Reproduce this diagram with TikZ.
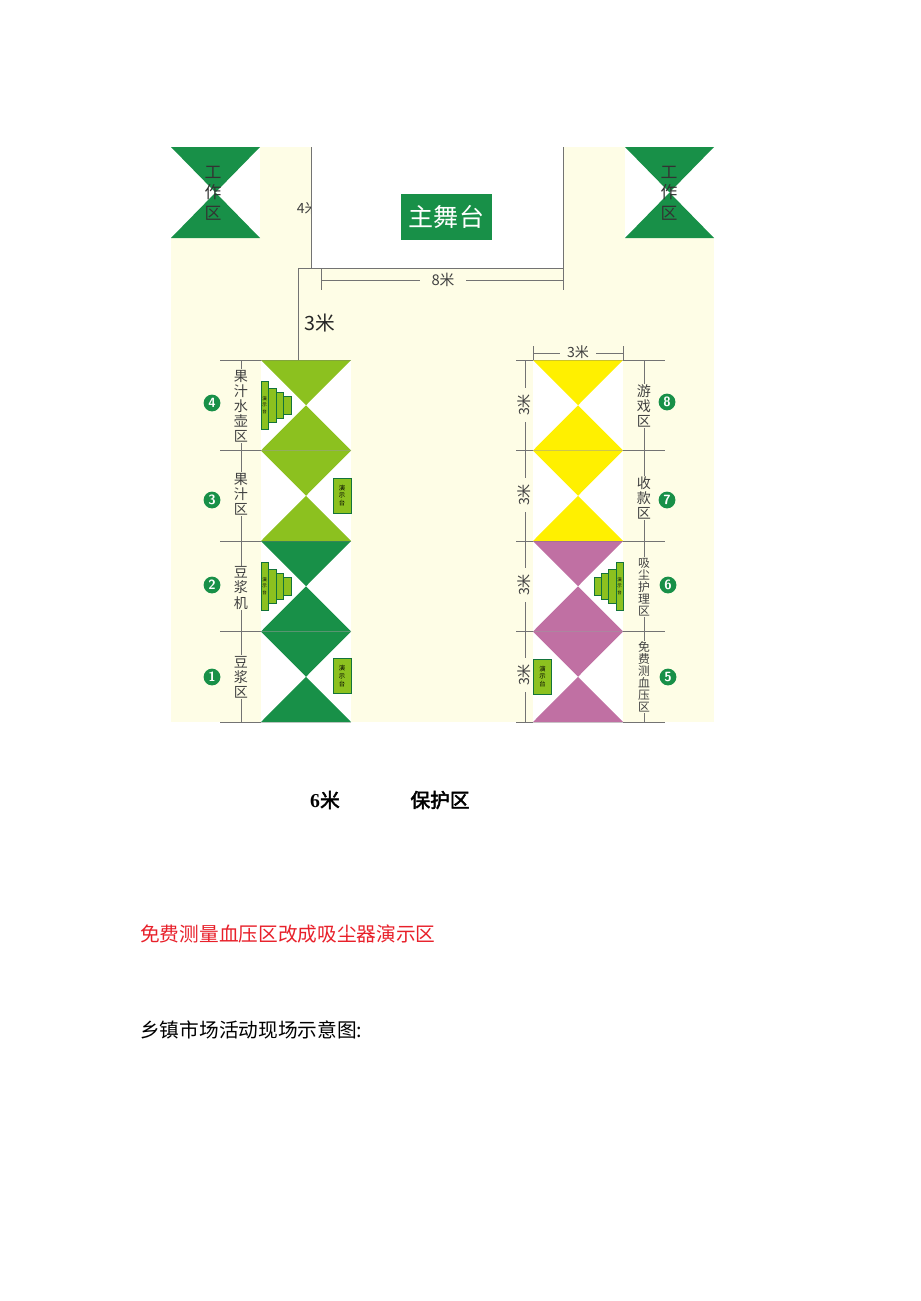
\documentclass[tikz,border=0pt]{standalone}
\usepackage{fontspec}
\setmainfont{Liberation Serif}
\newfontfamily\cjk[AutoFakeBold=2.5]{Noto Sans CJK SC}
\usetikzlibrary{positioning}

\definecolor{cream}{RGB}{254,253,230}
\definecolor{darkgreen}{RGB}{24,144,72}
\definecolor{lightgreen}{RGB}{140,193,31}
\definecolor{boothyellow}{RGB}{255,240,0}
\definecolor{mauve}{RGB}{192,112,163}
\definecolor{dimgray}{RGB}{115,115,115}
\definecolor{notered}{RGB}{232,32,42}

\begin{document}
\begin{tikzpicture}[x=0.025cm,y=-0.025cm,
  dimline/.style={dimgray,line width=0.5pt},
  lbl/.style={font=\cjk\fontsize{10}{10.7}\selectfont,text=black!75,align=center,fill=cream,inner sep=0.6pt},
  lblsmall/.style={lbl,font=\cjk\fontsize{8.4}{8.6}\selectfont},
  zonetxt/.style={font=\cjk\fontsize{12}{14.5}\selectfont,text=black!80,align=center,inner sep=0pt},
  numdot/.style={circle,fill=darkgreen,text=white,font=\sffamily\bfseries\fontsize{9.5}{9.5}\selectfont,minimum size=0.42cm,inner sep=0pt},
  demobox/.style={draw=darkgreen!80!black,fill=lightgreen,line width=0.5pt,minimum width=0.45cm,minimum height=0.88cm,inner sep=0pt,font=\cjk\fontsize{4.5}{5.5}\selectfont,align=center},
  stepbox/.style={draw=darkgreen!80!black,fill=lightgreen,line width=0.5pt},
  tallbox/.style={stepbox,minimum width=0.18cm,minimum height=1.2cm,inner sep=0pt,font=\cjk\fontsize{3.2}{4.5}\selectfont,align=center}]
\useasboundingbox[fill=white] (0,0) rectangle (920,1301);

% ground and main stage
\fill[cream] (171,147) rectangle (714,722);
\node[font=\cjk\fontsize{10}{10}\selectfont,text=black!75,anchor=east,inner sep=0pt] (four) at (319,208) {4米};
\fill[white] (311,147) rectangle (563,267.5);
\draw[dimline] (311,147) -- (311,268);
\draw[dimline] (298,268) -- (563,268);
\draw[dimline] (563,147) -- (563,290);
\draw[dimline] (298,268) -- (298,360);
\draw[dimline] (321,268) -- (321,290);
\draw[dimline] (321,280) -- (563,280);
\node[fill=cream,font=\cjk\fontsize{10.5}{10.5}\selectfont,text=black!75,inner xsep=8pt,inner ysep=0.5pt] (eight) at (443,280) {8米};
\node[fill=darkgreen,text=white,font=\cjk\fontsize{17.8}{17.8}\selectfont,minimum width=2.25cm,minimum height=1.15cm,inner sep=0pt] (stage) at (446.5,217) {主舞台};
\node[font=\cjk\fontsize{14}{14}\selectfont,text=black!85] (three) at (320,323) {3米};

% work zones
\fill[white] (171,147) rectangle (260,238);
\fill[darkgreen] (171,147) -- (260,147) -- (215.5,192.5) -- cycle;
\fill[darkgreen] (171,238) -- (260,238) -- (215.5,192.5) -- cycle;
\node[zonetxt] (workL) at (213,193) {工\\作\\区};
\fill[white] (625,147) rectangle (714,238);
\fill[darkgreen] (625,147) -- (714,147) -- (669.5,192.5) -- cycle;
\fill[darkgreen] (625,238) -- (714,238) -- (669.5,192.5) -- cycle;
\node[zonetxt] (workR) at (669,193) {工\\作\\区};

% left row of booths
\fill[white] (261,360) rectangle (351,722);
\fill[lightgreen] (261,360) -- (351,360) -- (306,405.25) -- cycle;
\fill[lightgreen] (261,450.5) -- (351,450.5) -- (306,405.25) -- cycle;
\fill[lightgreen] (261,450.5) -- (351,450.5) -- (306,495.75) -- cycle;
\fill[lightgreen] (261,541) -- (351,541) -- (306,495.75) -- cycle;
\fill[darkgreen] (261,541) -- (351,541) -- (306,586.25) -- cycle;
\fill[darkgreen] (261,631.5) -- (351,631.5) -- (306,586.25) -- cycle;
\fill[darkgreen] (261,631.5) -- (351,631.5) -- (306,676.75) -- cycle;
\fill[darkgreen] (261,722) -- (351,722) -- (306,676.75) -- cycle;

% right row of booths
\fill[white] (533,360) rectangle (623,722);
\fill[boothyellow] (533,360) -- (623,360) -- (578,405.25) -- cycle;
\fill[boothyellow] (533,450.5) -- (623,450.5) -- (578,405.25) -- cycle;
\fill[boothyellow] (533,450.5) -- (623,450.5) -- (578,495.75) -- cycle;
\fill[boothyellow] (533,541) -- (623,541) -- (578,495.75) -- cycle;
\fill[mauve] (533,541) -- (623,541) -- (578,586.25) -- cycle;
\fill[mauve] (533,631.5) -- (623,631.5) -- (578,586.25) -- cycle;
\fill[mauve] (533,631.5) -- (623,631.5) -- (578,676.75) -- cycle;
\fill[mauve] (533,722) -- (623,722) -- (578,676.75) -- cycle;

% dimension ticks
\foreach \y in {360,450.5,541,631.5,722} {
  \draw[dimline] (220,\y) -- (261,\y);
  \draw[dimline,opacity=0.35] (261,\y) -- (351,\y);
  \draw[dimline] (516,\y) -- (533,\y);
  \draw[dimline,opacity=0.35] (533,\y) -- (623,\y);
  \draw[dimline] (623,\y) -- (665,\y);
}
\draw[dimline] (241,360) -- (241,722);
\draw[dimline] (525,360) -- (525,722);
\draw[dimline] (644,360) -- (644,722);
\draw[dimline] (533,346) -- (533,360);
\draw[dimline] (623,346) -- (623,360);
\draw[dimline] (533,353) -- (623,353);
\node[lbl,inner xsep=5pt] (topthree) at (578,352) {3米};
\node[lbl,rotate=90,inner xsep=4pt] (dim8) at (524,405) {3米};
\node[lbl,rotate=90,inner xsep=4pt] (dim7) at (524,495) {3米};
\node[lbl,rotate=90,inner xsep=4pt] (dim6) at (524,585) {3米};
\node[lbl,rotate=90,inner xsep=4pt] (dim5) at (524,675) {3米};

% demo stages
\draw[stepbox] (261,396) rectangle (291,414);
\draw[stepbox] (261,392) rectangle (283,418);
\draw[stepbox] (261,388) rectangle (276,422);
\node[tallbox] (steps4) at (264.5,405) {演\\示\\台};
\draw[stepbox] (261,577) rectangle (291,595);
\draw[stepbox] (261,573) rectangle (283,599);
\draw[stepbox] (261,569) rectangle (276,603);
\node[tallbox] (steps2) at (264.5,586) {演\\示\\台};
\draw[stepbox] (594,577) rectangle (623,595);
\draw[stepbox] (601,573) rectangle (623,599);
\draw[stepbox] (608,569) rectangle (623,603);
\node[tallbox] (steps6) at (619.5,586) {演\\示\\台};
\node[demobox] (demo3) at (342,495.5) {演\\示\\台};
\node[demobox] (demo1) at (342,676) {演\\示\\台};
\node[demobox] (demo5) at (542.5,676.5) {演\\示\\台};

% booth labels
\node[lbl] (area4) at (241,406) {果\\汁\\水\\壶\\区};
\node[lbl] (area3) at (241,494) {果\\汁\\区};
\node[lbl] (area2) at (241,588) {豆\\浆\\机};
\node[lbl] (area1) at (241,677) {豆\\浆\\区};
\node[lbl] (area8) at (644,406) {游\\戏\\区};
\node[lbl] (area7) at (644,498) {收\\款\\区};
\node[lblsmall] (area6) at (644,587) {吸\\尘\\护\\理\\区};
\node[lblsmall] (area5) at (644,677) {免\\费\\测\\血\\压\\区};
\node[numdot] (n4) at (212,403) {4};
\node[numdot] (n3) at (212,500) {3};
\node[numdot] (n2) at (212,585) {2};
\node[numdot] (n1) at (212,677) {1};
\node[numdot] (n8) at (667,402) {8};
\node[numdot] (n7) at (667,500) {7};
\node[numdot] (n6) at (668,585) {6};
\node[numdot] (n5) at (668,677) {5};

% text below the plan
\node[font=\cjk\bfseries\fontsize{14}{14}\selectfont] (six) at (325,800) {{\rmfamily\bfseries 6}米};
\node[font=\cjk\bfseries\fontsize{14}{14}\selectfont] (guard) at (440,800) {保护区};
\node[anchor=west,inner sep=0pt,text=notered,font=\cjk\fontsize{14}{14}\selectfont] (note) at (140,934) {免费测量血压区改成吸尘器演示区};
\node[anchor=west,inner sep=0pt,font=\cjk\fontsize{14}{14}\selectfont] (title) at (140,1030) {乡镇市场活动现场示意图:};
\end{tikzpicture}
\end{document}
